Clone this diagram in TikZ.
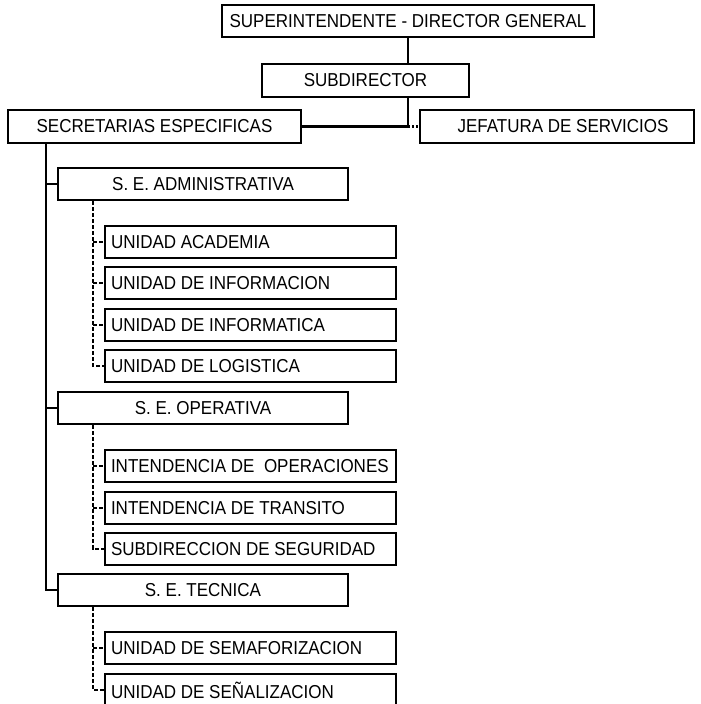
\documentclass[tikz,border=0pt]{standalone}
\usepackage{fontspec}
\setmainfont{Liberation Sans}
\newcommand{\tx}[1]{\scalebox{1}[1.1]{#1}}
\newcommand{\lt}[1]{\makebox[279pt][l]{\scalebox{1}[1.1]{#1}}}
\begin{document}
\begin{tikzpicture}[x=1pt,y=-1pt,
  every node/.style={font=\fontsize{17}{20}\selectfont},
  box/.style={draw, line width=2.2pt, inner sep=0pt, align=center},
  subbox/.style={draw, line width=2.2pt, inner ysep=0pt, inner xsep=6pt, minimum width=291pt, minimum height=32pt},
  sebox/.style={box, minimum width=290pt, minimum height=32pt},
  link/.style={line width=2.2pt},
  dlink/.style={line width=1.8pt, dash pattern=on 4pt off 2pt},
  dotlink/.style={line width=2.2pt, dash pattern=on 2pt off 2pt}]
\useasboundingbox (0,0) rectangle (701,704);
\clip (0,0) rectangle (701,704);
\node[box, minimum width=372pt, minimum height=32pt] (top) at (408,21) {\tx{SUPERINTENDENTE - DIRECTOR GENERAL}};
\node[box, minimum width=207pt, minimum height=33pt] (subd) at (365.5,80.5) {\tx{SUBDIRECTOR}};
\node[box, minimum width=293pt, minimum height=33pt] (secr) at (154.5,126.5) {\tx{SECRETARIAS ESPECIFICAS}};
\node[box, minimum width=274pt, minimum height=33pt] (jef) at (557,126.5) {\hspace*{12pt}\tx{JEFATURA DE SERVICIOS}};
\node[sebox] (adm) at (203,184) {\tx{S. E. ADMINISTRATIVA}};
\node[sebox] (ope) at (203,408) {\tx{S. E. OPERATIVA}};
\node[sebox] (tec) at (203,590) {\tx{S. E. TECNICA}};
\node[subbox] (u1) at (250.5,242) {\lt{UNIDAD ACADEMIA}};
\node[subbox] (u2) at (250.5,283) {\lt{UNIDAD DE INFORMACION}};
\node[subbox] (u3) at (250.5,325) {\lt{UNIDAD DE INFORMATICA}};
\node[subbox] (u4) at (250.5,366) {\lt{UNIDAD DE LOGISTICA}};
\node[subbox] (o1) at (250.5,466) {\lt{INTENDENCIA DE\ \ OPERACIONES}};
\node[subbox] (o2) at (250.5,508) {\lt{INTENDENCIA DE TRANSITO}};
\node[subbox] (o3) at (250.5,549) {\lt{SUBDIRECCION DE SEGURIDAD}};
\node[subbox] (t1) at (250.5,648) {\lt{UNIDAD DE SEMAFORIZACION}};
\node[subbox] (t2) at (250.5,690) {\lt{UNIDAD DE SEÑALIZACION}};
% top connectors
\coordinate (cx) at (408,0);
\coordinate (jn) at (408,126.5);
\draw[link] (top.south -| cx) -- (subd.north -| cx);
\draw[link] (subd.south -| cx) -- (jn) -- (secr.east);
\draw[dotlink] (jn) -- (jef.west);
% trunk
\coordinate (tx) at (46,0);
\draw[link] (secr.south -| tx) |- (tec.west);
\draw[link] (adm.west -| tx) -- (adm.west);
\draw[link] (ope.west -| tx) -- (ope.west);
% dashed sub connectors
\coordinate (dx) at (93,0);
\draw[dlink] (adm.south -| dx) |- (u4.west);
\foreach \n in {u1,u2,u3} \draw[dlink] (\n.west -| dx) -- (\n.west);
\draw[dlink] (ope.south -| dx) |- (o3.west);
\foreach \n in {o1,o2} \draw[dlink] (\n.west -| dx) -- (\n.west);
\draw[dlink] (tec.south -| dx) |- (t2.west);
\draw[dlink] (t1.west -| dx) -- (t1.west);
\end{tikzpicture}
\end{document}
